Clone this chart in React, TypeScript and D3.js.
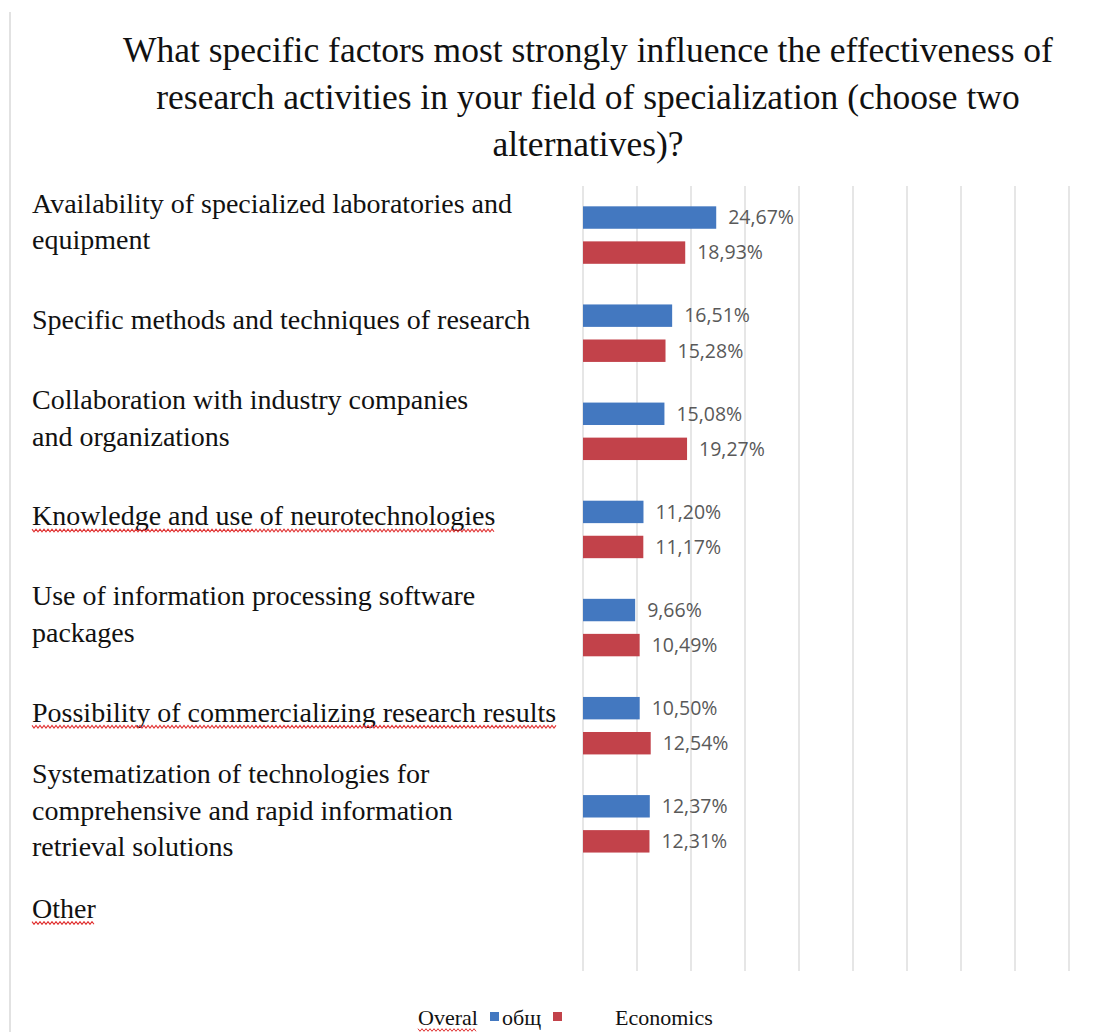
import React, { useEffect, useRef } from "react";
import * as d3 from "d3";

const titleLines = [
  "What specific factors most strongly influence the effectiveness of",
  "research activities in your field of specialization (choose two",
  "alternatives)?",
];

const categories = [
  "Availability of specialized laboratories and equipment",
  "Specific methods and techniques of research",
  "Collaboration with industry companies and organizations",
  "Knowledge and use of neurotechnologies",
  "Use of information processing software packages",
  "Possibility of commercializing research results",
  "Systematization of technologies for comprehensive and rapid information retrieval solutions",
  "Other",
];

const categoryLines = [
  ["Availability of specialized laboratories and", "equipment"],
  ["Specific methods and techniques of research"],
  ["Collaboration with industry companies", "and organizations"],
  ["Knowledge and use of neurotechnologies"],
  ["Use of information processing software", "packages"],
  ["Possibility of commercializing research results"],
  ["Systematization of technologies for", "comprehensive and rapid information", "retrieval solutions"],
  ["Other"],
];

const spellFlagged = [false, false, false, true, false, true, false, true];

const seriesNames = ["общ", "Economics"];
const overallValues: (number | null)[] = [24.67, 16.51, 15.08, 11.2, 9.66, 10.5, 12.37, null];
const economicsValues: (number | null)[] = [18.93, 15.28, 19.27, 11.17, 10.49, 12.54, 12.31, null];
const gridTicks = [0, 10, 20, 30, 40, 50, 60, 70, 80, 90];

const W = 1110;
const H = 1032;
const BLUE = "#4378c0";
const RED = "#c2424a";
const SERIF = "'Liberation Serif', 'Times New Roman', serif";
const SANS = "'Open Sans', 'Liberation Sans', sans-serif";

export default function App() {
  const ref = useRef<SVGSVGElement>(null);

  useEffect(() => {
    const svg = d3.select(ref.current);
    svg.selectAll("*").remove();

    const x = d3.scaleLinear().domain([0, 100]).range([583, 1123]);
    const y = d3.scaleBand<string>().domain(categories).range([186, 971]).padding(0);
    const inner = d3
      .scaleBand<string>()
      .domain(seriesNames)
      .range([0, y.bandwidth()])
      .paddingInner(0.36)
      .paddingOuter(0.58);

    svg.append("rect").attr("width", W).attr("height", H).attr("fill", "#fff");

    // chart border (left)
    svg
      .append("line")
      .attr("x1", 10)
      .attr("x2", 10)
      .attr("y1", 12)
      .attr("y2", H)
      .attr("stroke", "#d9d9d9")
      .attr("stroke-width", 1.5);

    // title
    const title = svg
      .append("text")
      .attr("font-family", SERIF)
      .attr("font-size", 35.5)
      .attr("fill", "#111")
      .attr("text-anchor", "middle");
    titleLines.forEach((t, i) => {
      title
        .append("tspan")
        .attr("x", 588)
        .attr("y", 62 + i * 47)
        .text(t);
    });

    // gridlines
    svg
      .append("g")
      .selectAll("line")
      .data(gridTicks)
      .join("line")
      .attr("x1", (d) => x(d))
      .attr("x2", (d) => x(d))
      .attr("y1", y.range()[0])
      .attr("y2", y.range()[1])
      .attr("stroke", "#d9d9d9")
      .attr("stroke-width", 1.3);

    const wavy = (x0: number, x1: number, yy: number) => {
      const pts: [number, number][] = [];
      let k = 0;
      for (let xx = x0; xx <= x1; xx += 2, k++) pts.push([xx, yy + (k % 2 === 0 ? -1.3 : 1.3)]);
      return d3.line()(pts);
    };

    // category labels
    const lineH = 36.5;
    categories.forEach((c, i) => {
      const lines = categoryLines[i];
      const center = (y(c) as number) + y.bandwidth() / 2 - 13;
      const firstCenter = center - ((lines.length - 1) * lineH) / 2;
      lines.forEach((ln, j) => {
        const baseline = firstCenter + j * lineH + 9;
        const t = svg
          .append("text")
          .attr("x", 32)
          .attr("y", baseline)
          .attr("font-family", SERIF)
          .attr("font-size", 28)
          .attr("fill", "#111")
          .text(ln);
        if (spellFlagged[i]) {
          const w = (t.node() as SVGTextElement).getComputedTextLength();
          svg
            .append("path")
            .attr("d", wavy(32, 32 + w, baseline + 5))
            .attr("fill", "none")
            .attr("stroke", "#e03030")
            .attr("stroke-width", 1.1);
        }
      });
    });

    // bars
    const series = [
      { name: seriesNames[0], values: overallValues, color: BLUE },
      { name: seriesNames[1], values: economicsValues, color: RED },
    ];
    series.forEach((s) => {
      const g = svg.append("g");
      const data = categories
        .map((c, i) => ({ c, v: s.values[i] }))
        .filter((d) => d.v !== null) as { c: string; v: number }[];
      g.selectAll("rect")
        .data(data)
        .join("rect")
        .attr("x", x(0))
        .attr("y", (d) => (y(d.c) as number) + (inner(s.name) as number))
        .attr("width", (d) => x(d.v) - x(0))
        .attr("height", inner.bandwidth())
        .attr("fill", s.color);
      g.selectAll("text")
        .data(data)
        .join("text")
        .attr("x", (d) => x(d.v) + 12)
        .attr("y", (d) => (y(d.c) as number) + (inner(s.name) as number) + inner.bandwidth() / 2)
        .attr("dy", "0.35em")
        .attr("font-family", SANS)
        .attr("font-size", 19.5)
        .attr("fill", "#595959")
        .text((d) => d.v.toFixed(2).replace(".", ",") + "%");
    });

    // legend
    const lg = svg.append("g").attr("font-family", SERIF).attr("font-size", 22).attr("fill", "#111");
    const ov = lg.append("text").attr("x", 418).attr("y", 1025).text("Overal");
    const ovw = (ov.node() as SVGTextElement).getComputedTextLength();
    lg.append("path")
      .attr("d", wavy(418, 418 + ovw, 1030))
      .attr("fill", "none")
      .attr("stroke", "#e03030")
      .attr("stroke-width", 1);
    lg.append("rect").attr("x", 490).attr("y", 1012).attr("width", 9).attr("height", 9).attr("fill", BLUE);
    lg.append("text").attr("x", 502).attr("y", 1025).text(seriesNames[0]);
    lg.append("rect").attr("x", 553).attr("y", 1012).attr("width", 9).attr("height", 9).attr("fill", RED);
    lg.append("text").attr("x", 615).attr("y", 1025).text(seriesNames[1]);
  }, []);

  return (
    <svg
      ref={ref}
      width={W}
      height={H}
      style={{ position: "absolute", left: 0, top: 0, display: "block" }}
    />
  );
}
